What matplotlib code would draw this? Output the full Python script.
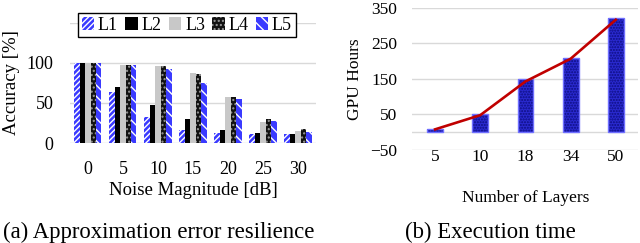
import numpy as np
import matplotlib
matplotlib.use("Agg")
import matplotlib.pyplot as plt

plt.rcParams["font.family"] = ["Liberation Serif", "DejaVu Serif"]
plt.rcParams["hatch.linewidth"] = 1.0

# (a) accuracy vs noise
noise = ["0", "5", "10", "15", "20", "25", "30"]
layers = ["L1", "L2", "L3", "L4", "L5"]
acc_L1 = [100, 64, 32, 16, 12, 11, 11]
acc_L2 = [100, 70, 48, 30, 16, 12, 11]
acc_L3 = [100, 98, 96, 87, 57, 26, 15]
acc_L4 = [100, 98, 96, 86, 57, 30, 17]
acc_L5 = [100, 98, 92, 75, 55, 28, 14]

# (b) execution time
n_layers = ["5", "10", "18", "34", "50"]
gpu_hours = [8, 51, 149, 210, 321]
gpu_trend = [8, 48, 143, 207, 317]

GRID = "#d9d9d9"

fig = plt.figure(figsize=(6.4, 2.43), dpi=100)

# ---------- left ----------
ax = fig.add_axes([0.110, 0.4115, 0.383, 0.494])
styles = [
    dict(facecolor="#3a3aff", edgecolor="white", hatch="//////"),
    dict(facecolor="black", edgecolor="black"),
    dict(facecolor="#c8c8c8", edgecolor="#c8c8c8"),
    dict(facecolor="#111111", edgecolor="#9a9a9a", hatch="...."),
    dict(facecolor="#3a3aff", edgecolor="white", hatch="\\\\\\"),
]
series = [acc_L1, acc_L2, acc_L3, acc_L4, acc_L5]
x = np.arange(len(noise))
w = 0.155
for i, (vals, st) in enumerate(zip(series, styles)):
    ax.bar(x + (i - 2) * w, vals, w, label=layers[i], lw=0, zorder=3, **st)
ax.set_xlim(-0.5, len(noise) - 0.5)
ax.set_ylim(0, 150)
ax.set_yticks([0, 50, 100, 150])
ax.set_yticklabels(["0", "50", "100", ""])
ax.set_xticks(x)
ax.set_xticklabels(noise)
ax.grid(axis="y", color=GRID, lw=1, zorder=0)
for s in ax.spines.values():
    s.set_visible(False)
ax.tick_params(length=0, labelsize=13)
ax.tick_params(axis="x", pad=13)
ax.tick_params(axis="y", pad=12)
ax.set_xlabel("Noise Magnitude [dB]", fontsize=13.5, labelpad=3)
ax.set_ylabel("Accuracy [%]", fontsize=13.5, labelpad=5)
leg = fig.legend(loc="center", bbox_to_anchor=(0.292, 0.897), ncol=5, fontsize=13,
                 handlelength=0.7, handleheight=0.7, handletextpad=0.2,
                 columnspacing=0.4, borderpad=0.2, fancybox=False,
                 edgecolor="black", framealpha=1)
leg.get_frame().set_linewidth(1.0)

# ---------- right ----------
ax2 = fig.add_axes([0.6445, 0.383, 0.353, 0.584])
xb = np.arange(len(n_layers))
ax2.bar(xb, gpu_hours, 0.35, facecolor="#2a2ad0", edgecolor="#0d0d80",
        hatch="......", lw=0, zorder=3)
ax2.bar(xb, gpu_hours, 0.35, fill=False, edgecolor="#7070ff", lw=1, zorder=4)
ax2.plot(xb, gpu_trend, color="#c00000", lw=1.9, zorder=5)
ax2.axhline(0, color=GRID, lw=1, zorder=1)
ax2.set_xlim(-0.5, len(n_layers) - 0.5)
ax2.set_ylim(-50, 350)
ax2.set_yticks([-50, 50, 150, 250, 350])
ax2.set_xticks(xb)
ax2.set_xticklabels(n_layers)
ax2.grid(axis="y", color=GRID, lw=1, zorder=0)
for s in ax2.spines.values():
    s.set_visible(False)
ax2.tick_params(length=0, labelsize=12.5)
ax2.tick_params(axis="x", pad=-1)
ax2.tick_params(axis="y", pad=11)
ax2.set_xlabel("Number of Layers", fontsize=12.5, labelpad=18)
ax2.set_ylabel("GPU Hours", fontsize=12.5, labelpad=5)

fig.text(0.005, 0.045, "(a) Approximation error resilience", fontsize=16.4, ha="left", va="center")
fig.text(0.766, 0.045, "(b) Execution time", fontsize=16.4, ha="center", va="center")

fig.savefig("out.png", dpi=100)
